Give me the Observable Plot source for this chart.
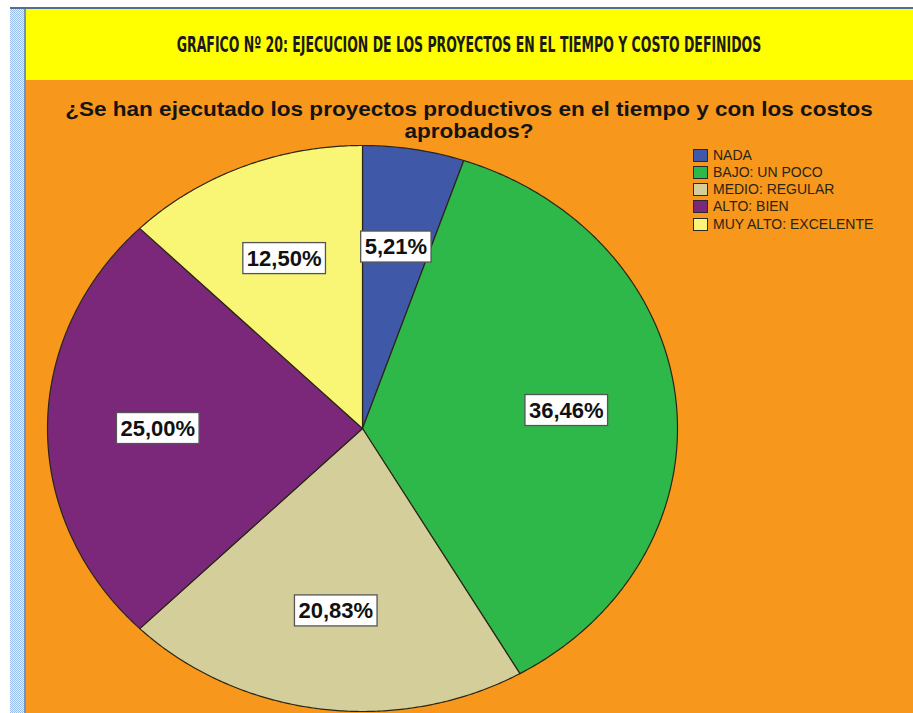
<!DOCTYPE html>
<html>
<head>
<meta charset="utf-8">
<script src="https://cdn.jsdelivr.net/npm/d3@7"></script>
<script src="https://cdn.jsdelivr.net/npm/@observablehq/plot@0.6"></script>
<style>
  html, body { margin: 0; padding: 0; background: #fff; }
  #page { position: relative; width: 913px; height: 713px; overflow: hidden; background: #fff; }
  .abs { position: absolute; }
  #legend .row { position: absolute; left: 693px; height: 13px; display: flex; align-items: center; }
  #legend .sw { width: 13px; height: 11px; border: 1px solid #2a2a2a; box-sizing: content-box; margin-right: 5px; }
  #legend .lab { font: 14px "Liberation Sans", Arial, sans-serif; color: #2a2414; white-space: nowrap; line-height: 13px; }
</style>
</head>
<body>
<div id="page">
  <div class="abs" style="left:10px;top:7px;width:903px;height:2px;background:#4f6f94"></div>
  <div class="abs" style="left:10px;top:9px;width:14px;height:704px;background-image:repeating-conic-gradient(#98bdec 0% 25%, #e6f0ff 0% 50%);background-size:2px 2px;"></div>
  <div class="abs" style="left:24px;top:9px;width:2px;height:704px;background:#7393c0"></div>
  <div class="abs" style="left:26px;top:9px;width:887px;height:71px;background:#ffff00"></div>
  <div class="abs" style="left:26px;top:80px;width:887px;height:633px;background:#f7981d"></div>
  <svg class="abs" style="left:0;top:0" width="913" height="713">
    <text id="title" x="469" y="52" text-anchor="middle"
      font-family="'Liberation Sans Narrow','DejaVu Sans Condensed',sans-serif" font-weight="bold" font-size="21" fill="#1a1a1a"></text>
    <text id="sub1" x="469" y="116" text-anchor="middle"
      font-family="'Liberation Sans',Arial,sans-serif" font-weight="bold" font-size="20" fill="#141414"></text>
    <text id="sub2" x="469" y="138" text-anchor="middle"
      font-family="'Liberation Sans',Arial,sans-serif" font-weight="bold" font-size="20" fill="#141414"></text>
  </svg>
  <div id="legend"></div>
  <div id="chart" class="abs" style="left:0;top:0"></div>
</div>
<script>
// ---- data ----
const titleText = "GRAFICO Nº 20: EJECUCION DE LOS PROYECTOS EN EL TIEMPO Y COSTO DEFINIDOS";
const subtitleLines = ["¿Se han ejecutado los proyectos productivos en el tiempo y con los costos", "aprobados?"];
const categories = ["NADA", "BAJO: UN POCO", "MEDIO: REGULAR", "ALTO: BIEN", "MUY ALTO: EXCELENTE"];
const percents = [5.21, 36.46, 20.83, 25.00, 12.50];
const colors = ["#3f58a8", "#2fb84a", "#d4cf9a", "#7b287a", "#f8f674"];

// stretch/condense a centred text horizontally to a target width
function fitText(id, text, targetW, cx) {
  const el = document.getElementById(id);
  el.textContent = text;
  const w = el.getComputedTextLength();
  const sx = targetW / w;
  el.setAttribute("transform", `matrix(${sx},0,0,1,${cx * (1 - sx)},0)`);
  return sx;
}
const sxSub = fitText("sub1", subtitleLines[0], 808, 469);
const sub2 = document.getElementById("sub2");
sub2.textContent = subtitleLines[1];
sub2.setAttribute("transform", `matrix(${sxSub},0,0,1,${469 * (1 - sxSub)},0)`);
fitText("title", titleText, 585, 469);

// legend
const legend = document.getElementById("legend");
categories.forEach((c, i) => {
  const row = document.createElement("div");
  row.className = "row";
  row.style.top = (148.5 + i * 17.3) + "px";
  const sw = document.createElement("span");
  sw.className = "sw";
  sw.style.background = colors[i];
  const lab = document.createElement("span");
  lab.className = "lab";
  lab.textContent = c;
  row.appendChild(sw); row.appendChild(lab);
  legend.appendChild(row);
});

// pie geometry (unit circle, stretched by x/y scales)
const arcs = d3.pie().sort(null).value(d => d.value)(categories.map((c, i) => ({cat: c, value: percents[i]})));
const pts = [];
const labels = [];
arcs.forEach(a => {
  const cat = a.data.cat;
  const n = Math.max(2, Math.ceil((a.endAngle - a.startAngle) / (Math.PI / 360)));
  pts.push({cat, x: 0, y: 0});
  for (let k = 0; k <= n; k++) {
    const t = a.startAngle + (a.endAngle - a.startAngle) * k / n;
    pts.push({cat, x: Math.sin(t), y: Math.cos(t)});
  }
  pts.push({cat, x: 0, y: 0});
  const mid = (a.startAngle + a.endAngle) / 2;
  labels.push({cat, x: 0.65 * Math.sin(mid), y: 0.65 * Math.cos(mid),
               label: a.data.value.toFixed(2).replace(".", ",") + "%"});
});

const plot = Plot.plot({
  width: 913, height: 713,
  marginLeft: 47, marginRight: 236, marginTop: 145, marginBottom: 2,
  x: {domain: [-1, 1], axis: null},
  y: {domain: [-1, 1], axis: null},
  color: {domain: categories, range: colors},
  style: {background: "transparent", overflow: "visible"},
  marks: [
    Plot.line(pts, {x: "x", y: "y", z: "cat", fill: "cat", stroke: "#2b2618", strokeWidth: 1.2, strokeLinejoin: "round"}),
    Plot.text(labels, {x: "x", y: "y", text: "label", fontSize: 22, fontWeight: "bold",
      fontFamily: "'Liberation Sans', Arial, sans-serif", fill: "#111"})
  ]
});
document.getElementById("chart").appendChild(plot);

// white boxes behind the percentage labels
const svgNS = "http://www.w3.org/2000/svg";
let texts = plot.querySelectorAll('g[aria-label="text"] text');
if (!texts.length) texts = plot.querySelectorAll("text");
texts.forEach(t => {
  const bb = t.getBBox();
  const r = document.createElementNS(svgNS, "rect");
  r.setAttribute("x", bb.x - 4);
  r.setAttribute("y", bb.y - 3);
  r.setAttribute("width", bb.width + 8);
  r.setAttribute("height", bb.height + 6);
  r.setAttribute("fill", "#fff");
  r.setAttribute("stroke", "#555");
  r.setAttribute("stroke-width", "1.3");
  const tr = t.getAttribute("transform");
  if (tr) r.setAttribute("transform", tr);
  t.parentNode.insertBefore(r, t);
});
</script>
</body>
</html>
